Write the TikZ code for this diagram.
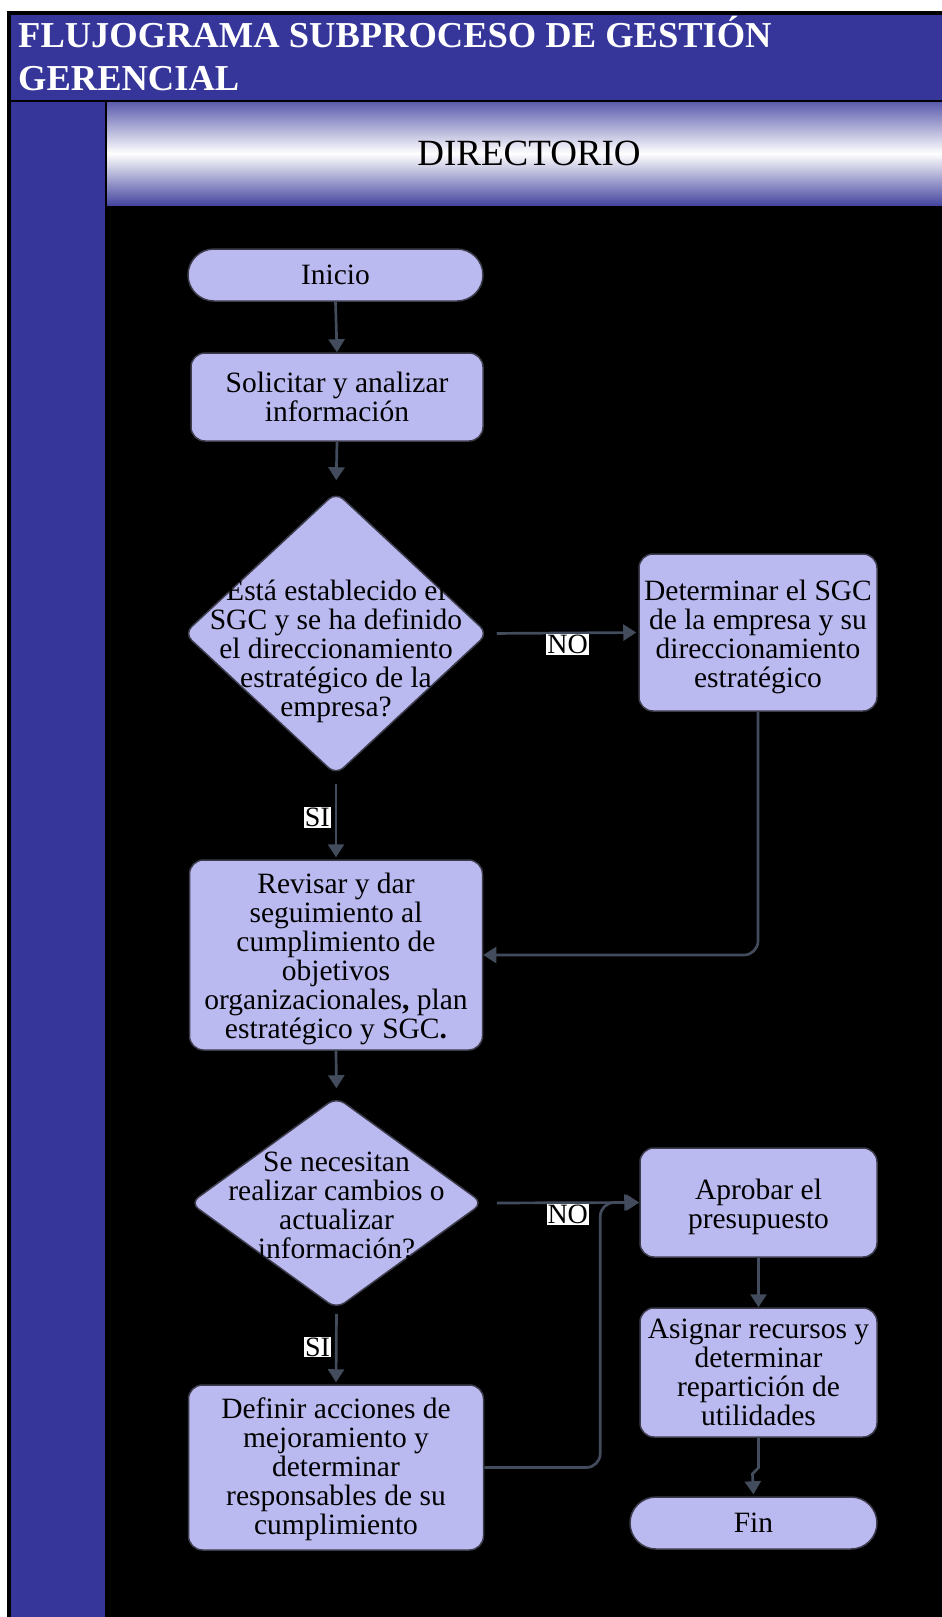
\documentclass[tikz,border=0pt]{standalone}
\usepackage{fontspec}
\setmainfont{Liberation Serif}
\usetikzlibrary{shapes.geometric,arrows.meta,calc}
\definecolor{hblue}{HTML}{35359A}
\definecolor{gtop}{HTML}{5C5CAE}
\definecolor{gbot}{HTML}{4646A0}
\definecolor{nfill}{HTML}{BBBAF0}
\definecolor{nline}{HTML}{3C3C4C}
\definecolor{cline}{HTML}{434C5C}
\begin{document}
\begin{tikzpicture}[x=1pt,y=-1pt,
  txt/.style={font=\fontsize{29.5}{29}\selectfont, align=center, text=black},
  box/.style={draw=nline, line width=1.5pt, fill=nfill, rounded corners=14pt, inner sep=0pt},
  term/.style={draw=nline, line width=1.5pt, fill=nfill, rounded corners=26pt, inner sep=0pt},
  dec/.style={diamond, draw=nline, line width=1.5pt, fill=nfill, rounded corners=10pt, inner sep=0pt},
  conn/.style={draw=cline, line width=2.7pt, -{Triangle[length=13pt,width=16pt]}},
  lbl/.style={fill=white, text=black, font=\fontsize{28}{29}\selectfont, inner sep=1pt}]
\useasboundingbox (0,0) rectangle (942,1617);
\fill[white] (0,0) rectangle (942,1617);
\fill[black] (7,11) rectangle (942,1617);
\fill[hblue] (11,15) rectangle (942,100);
\fill[hblue] (11,102) rectangle (105,1617);
\shade[top color=gtop, bottom color=gbot, middle color=white] (107,102) rectangle (942,205);
\node[anchor=base west, inner sep=0pt, text=white, font=\bfseries\fontsize{36.5}{40}\selectfont] (t1) at (18,47) {FLUJOGRAMA SUBPROCESO DE GESTIÓN};
\node[anchor=base west, inner sep=0pt, text=white, font=\bfseries\fontsize{36.5}{40}\selectfont] (t2) at (18,90) {GERENCIAL};
\node[anchor=base, inner sep=0pt, text=black, font=\fontsize{37}{40}\selectfont] (dir) at (529,165) {DIRECTORIO};

\node[term, minimum width=295pt, minimum height=52pt] (ini) at (335.5,275) {};
\node[txt] at (ini) {Inicio};
\node[box, minimum width=292pt, minimum height=88pt] (sol) at (337,397) {};
\node[txt] at (sol) {Solicitar y analizar\\información};
\node[dec, minimum width=304pt, minimum height=283pt] (d1) at (336,633.5) {};
\node[txt] at ($(d1)+(0,18)$) {Está establecido el\\SGC y se ha definido\\el direccionamiento\\estratégico de la\\empresa?};
\node[box, minimum width=238pt, minimum height=157pt] (det) at (758,632.5) {};
\node[txt] at ($(det)+(0,4)$) {Determinar el SGC\\de la empresa y su\\direccionamiento\\estratégico};
\node[box, minimum width=293pt, minimum height=190pt] (rev) at (336,955) {};
\node[txt] at ($(rev)+(0,4)$) {Revisar y dar\\seguimiento al\\cumplimiento de\\objetivos\\organizacionales\textbf{,} plan\\estratégico y SGC\textbf{.}};
\node[dec, minimum width=293pt, minimum height=212pt] (d2) at (336.5,1203) {};
\node[txt] at ($(d2)+(0,2)$) {Se necesitan\\realizar cambios o\\actualizar\\información?};
\node[box, minimum width=237pt, minimum height=109pt] (apr) at (758.5,1202.5) {};
\node[txt] at ($(apr)+(0,4)$) {Aprobar el\\presupuesto};
\node[box, minimum width=237pt, minimum height=129pt] (asi) at (758.5,1372.5) {};
\node[txt] at (asi) {Asignar recursos y\\determinar\\repartición de\\utilidades};
\node[box, minimum width=295pt, minimum height=165pt] (def) at (336,1467.5) {};
\node[txt] at ($(def)+(0,2)$) {Definir acciones de\\mejoramiento y\\determinar\\responsables de su\\cumplimiento};
\node[term, minimum width=247pt, minimum height=52pt] (fin) at (753.5,1523) {};
\node[txt] at (fin) {Fin};

\draw[conn] (ini.south) -- (sol.north);
\draw[conn, shorten >=11pt] (sol.south) -- (d1.north);
\draw[conn, shorten <=8pt, shorten >=2pt] (d1.east) -- node[lbl, midway, below=0pt, xshift=4pt] {NO} (det.west);
\draw[conn, shorten <=8pt, shorten >=2pt] (d1.south) -- node[lbl, midway, left=4pt] {SI} (rev.north);
\draw[conn, rounded corners=14pt] (det.south) |- (rev.east);
\draw[conn, shorten >=8pt] (rev.south) -- (d2.north);
\draw[conn, shorten <=13pt, shorten >=2pt] (d2.east) -- node[lbl, pos=0.54, below=0pt] {NO} (apr.west);
\draw[conn, shorten <=4pt, shorten >=2pt] (d2.south) -- node[lbl, midway, left=4pt] {SI} (def.north);
\draw[conn, rounded corners=14pt] (def.east) -- ++(116,0) |- (apr.west);
\draw[conn] (apr.south) -- (asi.north);
\draw[conn, shorten >=2pt] (asi.south) -- ++(0,30) -- ++(-6,6) -- (fin.north);
\end{tikzpicture}
\end{document}
